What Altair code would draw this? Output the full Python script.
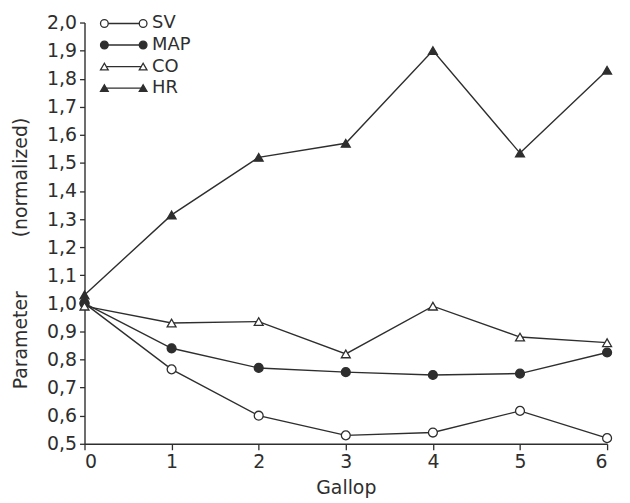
import altair as alt
import pandas as pd

# ---- data ----
gallop = [0, 1, 2, 3, 4, 5, 6]
series_names = ["SV", "MAP", "CO", "HR"]
sv_values = [1.00, 0.765, 0.60, 0.53, 0.54, 0.617, 0.52]
map_values = [1.00, 0.84, 0.77, 0.755, 0.745, 0.75, 0.825]
co_values = [0.99, 0.93, 0.935, 0.82, 0.99, 0.88, 0.86]
hr_values = [1.03, 1.315, 1.52, 1.57, 1.90, 1.535, 1.83]
y_ticks = [0.5, 0.6, 0.7, 0.8, 0.9, 1.0, 1.1, 1.2, 1.3, 1.4, 1.5, 1.6, 1.7, 1.8, 1.9, 2.0]

ink = "#2e2e2e"
shapes = ["circle", "circle", "triangle-up", "triangle-up"]
fills = ["white", ink, "white", ink]
FONT = "DejaVu Sans"
NB = "\u00a0"

rows = []
for name, vals in zip(series_names, [sv_values, map_values, co_values, hr_values]):
    for g, v in zip(gallop, vals):
        rows.append({"series": name, "gallop": g, "value": v})
df = pd.DataFrame(rows)
leg = pd.DataFrame({"series": series_names})

shape_enc = alt.Shape("series:N", scale=alt.Scale(domain=series_names, range=shapes), legend=None)
fill_enc = alt.Fill("series:N", scale=alt.Scale(domain=series_names, range=fills), legend=None)

x_enc = alt.X(
    "gallop:Q",
    scale=alt.Scale(domain=[0, 6], nice=False, zero=False),
    axis=alt.Axis(title="Gallop", values=gallop, format="d", tickSize=6,
                  labelPadding=3, titlePadding=7),
)
y_enc = alt.Y(
    "value:Q",
    scale=alt.Scale(domain=[0.5, 2.0], nice=False, zero=False),
    axis=alt.Axis(
        title="Parameter" + NB * 9 + "(normalized)",
        values=y_ticks,
        labelExpr="replace(format(datum.value, '.1f'), '.', ',')",
        tickSize=5,
        labelPadding=3,
        titleX=-64,
        titleY=232,
        titleAngle=-90,
        titleAlign="center",
        titleBaseline="middle",
    ),
)

lines = alt.Chart(df).mark_line(color=ink, strokeWidth=1.4).encode(
    x=x_enc, y=y_enc, detail="series:N"
)
points = alt.Chart(df).mark_point(
    filled=True, stroke=ink, strokeWidth=1.3, size=80, opacity=1
).encode(x=x_enc, y=y_enc, shape=shape_enc, fill=fill_enc)

main = alt.layer(lines, points)

legend_y = alt.Y(
    "series:N",
    scale=alt.Scale(type="point", domain=series_names, range=[1, 66], padding=0),
    axis=None,
)
leg_rule = alt.Chart(leg).mark_rule(color=ink, strokeWidth=1.4).encode(
    x=alt.value(20), x2=alt.value(59), y=legend_y
)
leg_left = alt.Chart(leg).mark_point(
    filled=True, stroke=ink, strokeWidth=1.3, size=60, opacity=1
).encode(x=alt.value(20), y=legend_y, shape=shape_enc, fill=fill_enc)
leg_right = alt.Chart(leg).mark_point(
    filled=True, stroke=ink, strokeWidth=1.3, size=60, opacity=1
).encode(x=alt.value(59), y=legend_y, shape=shape_enc, fill=fill_enc)
leg_text = alt.Chart(leg).mark_text(
    align="left", baseline="middle", font=FONT, fontSize=18, color=ink
).encode(x=alt.value(68), y=legend_y, text="series:N")

legend = alt.layer(leg_rule, leg_left, leg_right, leg_text)

chart = (
    alt.layer(main, legend)
    .resolve_scale(y="independent")
    .properties(
        width=526,
        height=424,
        autosize=alt.AutoSizeParams(type="none"),
        padding={"left": 77, "top": 13, "right": 15, "bottom": 60},
        background="white",
    )
    .configure_view(stroke=None)
    .configure_axis(
        grid=False,
        domainColor=ink,
        domainWidth=1.4,
        tickColor=ink,
        tickWidth=1.3,
        labelColor=ink,
        titleColor=ink,
        labelFont=FONT,
        titleFont=FONT,
        labelFontSize=19,
        titleFontSize=19,
        titleFontWeight="normal",
    )
)

chart.save("out.html", embed_options={"renderer": "svg", "actions": False})
